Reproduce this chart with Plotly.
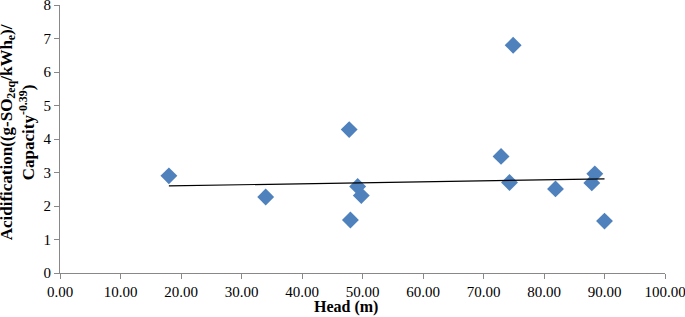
import plotly.graph_objects as go

head_m = [18.0, 34.0, 47.8, 48.0, 49.2, 49.8, 72.9, 74.3, 74.9, 81.9, 87.9, 88.4, 90.0]
acidification = [2.90, 2.27, 4.28, 1.58, 2.58, 2.31, 3.48, 2.70, 6.80, 2.51, 2.69, 2.96, 1.55]

trend_x = [18.0, 90.0]
trend_y = [2.60, 2.81]

x_ticks = [0, 10, 20, 30, 40, 50, 60, 70, 80, 90, 100]
y_ticks = [0, 1, 2, 3, 4, 5, 6, 7, 8]

FONT = "Liberation Serif"

fig = go.Figure()
fig.add_trace(go.Scatter(
    x=head_m, y=acidification, mode="markers",
    marker=dict(symbol="diamond", size=13, color="#4F81BD", line=dict(width=0)),
    showlegend=False, hoverinfo="x+y", cliponaxis=False))
fig.add_trace(go.Scatter(
    x=trend_x, y=trend_y, mode="lines",
    line=dict(color="black", width=1.2),
    showlegend=False, hoverinfo="skip"))

axis_common = dict(
    showgrid=False, zeroline=False, showline=True, linecolor="#888888", linewidth=1,
    ticks="outside", tickcolor="#888888", ticklen=5, tickwidth=1, automargin=False,
    ticklabeloverflow="allow",
    tickfont=dict(family=FONT, size=15, color="black"))

fig.update_xaxes(range=[0, 100], tickvals=x_ticks,
                 ticktext=[f"{v:.2f}" for v in x_ticks], **axis_common)
fig.update_yaxes(range=[0, 8], tickvals=y_ticks,
                 ticktext=[str(v) for v in y_ticks], **axis_common)

fig.update_layout(
    width=685, height=317,
    margin=dict(l=60, r=20, t=5, b=44),
    paper_bgcolor="white", plot_bgcolor="white",
    font=dict(family=FONT, color="black"),
    annotations=[
        dict(text="<b>Head (m)</b>", xref="paper", yref="paper",
             x=0.472, y=0, yanchor="top", yshift=-23, showarrow=False,
             font=dict(family=FONT, size=16, color="black")),
        dict(text="<b>Acidification((g-SO<sub>2eq</sub>/kWh<sub>e</sub>)/<br>Capacity<sup>-0.39</sup>)</b>",
             xref="paper", yref="paper", x=0, y=0.525, xanchor="center", yanchor="middle",
             xshift=-43, textangle=-90, showarrow=False,
             font=dict(family=FONT, size=17, color="black")),
    ],
)

fig.write_html("out.html", config={"displayModeBar": False},
               post_script="document.body.style.margin='0';")
